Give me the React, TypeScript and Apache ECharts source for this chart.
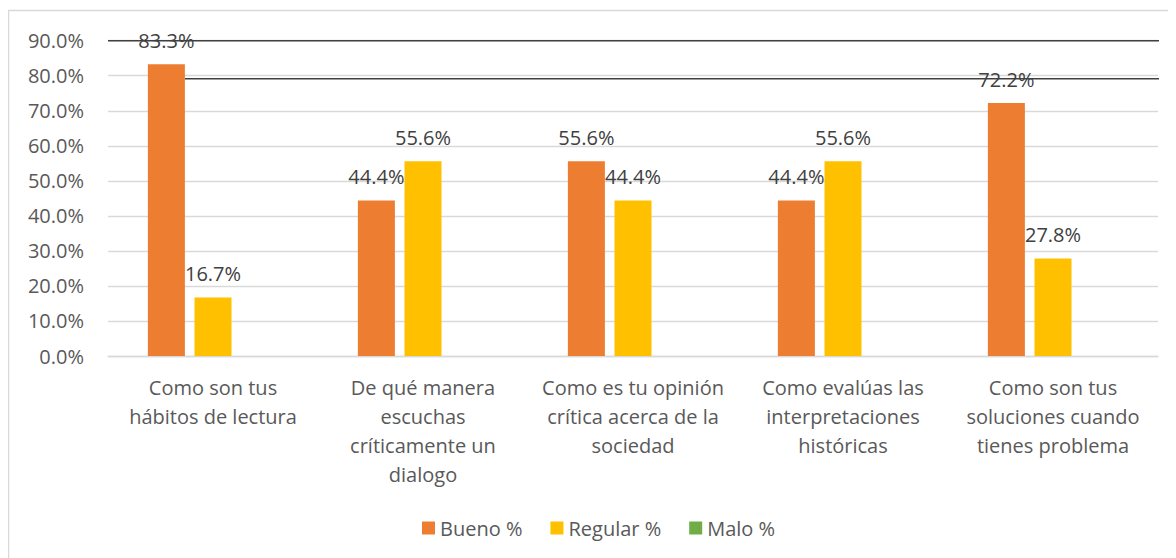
import React, { useEffect, useRef } from "react";
import * as echarts from "echarts";

const categories = [
  "Como son tus\nhábitos de lectura",
  "De qué manera\nescuchas\ncríticamente un\ndialogo",
  "Como es tu opinión\ncrítica acerca de la\nsociedad",
  "Como evalúas las\ninterpretaciones\nhistóricas",
  "Como son tus\nsoluciones cuando\ntienes problema",
];
const bueno = [83.3, 44.4, 55.6, 44.4, 72.2];
const regular = [16.7, 55.6, 44.4, 55.6, 27.8];
const malo = [0, 0, 0, 0, 0];
const seriesNames = ["Bueno %", "Regular %", "Malo %"];
const yTicks = { min: 0, max: 90, interval: 10 };

const FONT = "'Open Sans', sans-serif";

export default function App() {
  const ref = useRef<HTMLDivElement>(null);
  useEffect(() => {
    if (!ref.current) return;
    const chart = echarts.init(ref.current, null, { renderer: "svg" });
    const labelCfg = {
      show: true,
      position: "top",
      distance: 14,
      formatter: (p: any) => p.value.toFixed(1) + "%",
      color: "#404040",
      fontFamily: FONT,
      fontSize: 20,
      lineHeight: 20,
    };
    chart.setOption({
      animation: false,
      textStyle: { fontFamily: FONT },
      grid: { left: 100, right: 18, top: 32.7, bottom: 202, containLabel: false },
      legend: {
        left: 414,
        top: 510,
        padding: 0,
        itemWidth: 13,
        itemHeight: 13,
        itemGap: 28,
        icon: "rect",
        textStyle: { color: "#595959", fontSize: 20, fontFamily: FONT },
        data: seriesNames,
      },
      xAxis: {
        type: "category",
        data: categories,
        axisLine: { lineStyle: { color: "#d9d9d9", width: 1.3 } },
        axisTick: { show: false },
        axisLabel: {
          color: "#595959",
          fontSize: 20,
          lineHeight: 29,
          margin: 17,
          fontFamily: FONT,
          interval: 0,
        },
      },
      yAxis: {
        type: "value",
        min: yTicks.min,
        max: yTicks.max,
        interval: yTicks.interval,
        axisLabel: {
          formatter: (v: number) => v.toFixed(1) + "%",
          color: "#595959",
          fontSize: 20,
          margin: 24,
          fontFamily: FONT,
        },
        axisLine: { show: false },
        axisTick: { show: false },
        splitLine: { lineStyle: { color: "#d9d9d9", width: 1.3 } },
      },
      graphic: [
        {
          type: "rect",
          z: 0,
          silent: true,
          shape: { x: 0.5, y: 2.5, width: 3000, height: 3000 },
          style: { fill: "none", stroke: "#d9d9d9", lineWidth: 1.5 },
        },
        {
          type: "line",
          z: 1,
          silent: true,
          shape: { x1: 100, y1: 32.7, x2: 1151, y2: 32.7 },
          style: { stroke: "#404040", lineWidth: 1.5 },
        },
        {
          type: "line",
          z: 1,
          silent: true,
          shape: { x1: 177, y1: 70.7, x2: 1151, y2: 70.7 },
          style: { stroke: "#404040", lineWidth: 1.5 },
        },
      ],
      series: [
        {
          name: seriesNames[0],
          type: "bar",
          data: bueno,
          barWidth: 37,
          barGap: "26%",
          itemStyle: { color: "#ED7D31" },
          label: labelCfg,
        },
        {
          name: seriesNames[1],
          type: "bar",
          data: regular,
          barWidth: 37,
          barGap: "26%",
          itemStyle: { color: "#FFC000" },
          label: labelCfg,
        },
        {
          name: seriesNames[2],
          type: "bar",
          data: malo,
          barWidth: 37,
          barGap: "26%",
          itemStyle: { color: "#70AD47" },
          label: { show: false },
        },
      ],
    });
    return () => chart.dispose();
  }, []);
  return <div ref={ref} style={{ width: 1168, height: 550 }} />;
}
